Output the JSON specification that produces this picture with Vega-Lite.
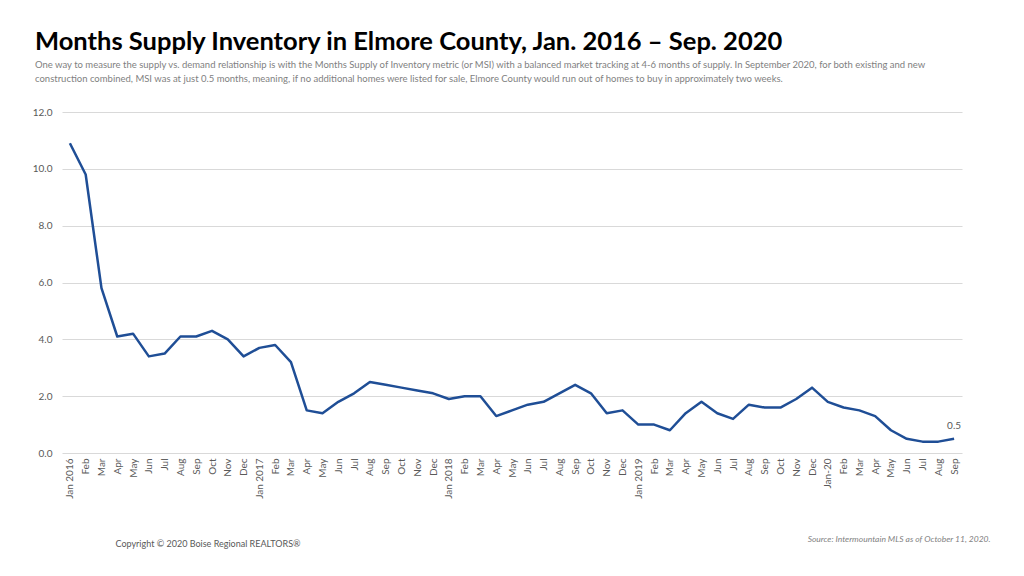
{
  "$schema": "https://vega.github.io/schema/vega-lite/v6.json",
  "width": 900,
  "height": 341,
  "autosize": {"type": "none"},
  "padding": {"left": 62, "top": 112, "right": 62, "bottom": 123},
  "background": "white",
  "title": {
    "text": "Months Supply Inventory in Elmore County, Jan. 2016 – Sep. 2020",
    "subtitle": [
      "One way to measure the supply vs. demand relationship is with the Months Supply of Inventory metric  (or MSI) with a balanced market tracking at 4-6 months of supply. In September 2020, for both existing and new",
      "construction combined, MSI was at just 0.5 months, meaning, if no additional homes were  listed for sale, Elmore County would run out of homes to buy in approximately two weeks."
    ],
    "anchor": "start",
    "frame": "group",
    "dx": -27,
    "offset": 24,
    "font": "Lato",
    "fontSize": 25.5,
    "fontWeight": "bold",
    "color": "#000000",
    "subtitleFont": "Lato",
    "subtitleFontSize": 9.5,
    "subtitleColor": "#7f7f7f",
    "subtitleLineHeight": 14,
    "subtitlePadding": 4
  },
  "data": {
    "values": [
      {"month": "2016-01", "msi": 10.9}, {"month": "2016-02", "msi": 9.8}, {"month": "2016-03", "msi": 5.8},
      {"month": "2016-04", "msi": 4.1}, {"month": "2016-05", "msi": 4.2}, {"month": "2016-06", "msi": 3.4},
      {"month": "2016-07", "msi": 3.5}, {"month": "2016-08", "msi": 4.1}, {"month": "2016-09", "msi": 4.1},
      {"month": "2016-10", "msi": 4.3}, {"month": "2016-11", "msi": 4.0}, {"month": "2016-12", "msi": 3.4},
      {"month": "2017-01", "msi": 3.7}, {"month": "2017-02", "msi": 3.8}, {"month": "2017-03", "msi": 3.2},
      {"month": "2017-04", "msi": 1.5}, {"month": "2017-05", "msi": 1.4}, {"month": "2017-06", "msi": 1.8},
      {"month": "2017-07", "msi": 2.1}, {"month": "2017-08", "msi": 2.5}, {"month": "2017-09", "msi": 2.4},
      {"month": "2017-10", "msi": 2.3}, {"month": "2017-11", "msi": 2.2}, {"month": "2017-12", "msi": 2.1},
      {"month": "2018-01", "msi": 1.9}, {"month": "2018-02", "msi": 2.0}, {"month": "2018-03", "msi": 2.0},
      {"month": "2018-04", "msi": 1.3}, {"month": "2018-05", "msi": 1.5}, {"month": "2018-06", "msi": 1.7},
      {"month": "2018-07", "msi": 1.8}, {"month": "2018-08", "msi": 2.1}, {"month": "2018-09", "msi": 2.4},
      {"month": "2018-10", "msi": 2.1}, {"month": "2018-11", "msi": 1.4}, {"month": "2018-12", "msi": 1.5},
      {"month": "2019-01", "msi": 1.0}, {"month": "2019-02", "msi": 1.0}, {"month": "2019-03", "msi": 0.8},
      {"month": "2019-04", "msi": 1.4}, {"month": "2019-05", "msi": 1.8}, {"month": "2019-06", "msi": 1.4},
      {"month": "2019-07", "msi": 1.2}, {"month": "2019-08", "msi": 1.7}, {"month": "2019-09", "msi": 1.6},
      {"month": "2019-10", "msi": 1.6}, {"month": "2019-11", "msi": 1.9}, {"month": "2019-12", "msi": 2.3},
      {"month": "2020-01", "msi": 1.8}, {"month": "2020-02", "msi": 1.6}, {"month": "2020-03", "msi": 1.5},
      {"month": "2020-04", "msi": 1.3}, {"month": "2020-05", "msi": 0.8}, {"month": "2020-06", "msi": 0.5},
      {"month": "2020-07", "msi": 0.4}, {"month": "2020-08", "msi": 0.4}, {"month": "2020-09", "msi": 0.5}
    ]
  },
  "encoding": {
    "x": {
      "field": "month",
      "type": "ordinal",
      "sort": null,
      "scale": {"type": "point", "padding": 0.5},
      "axis": {
        "title": "Source: Intermountain MLS as of October 11, 2020.",
        "titleX": 928,
        "titleY": 88,
        "titleAlign": "right",
        "titleAnchor": null,
        "titleBaseline": "alphabetic",
        "titleFont": "Lato",
        "titleFontSize": 8.5,
        "titleFontWeight": "normal",
        "titleFontStyle": "italic",
        "titleColor": "#7f7f7f",
        "labelAngle": -90,
        "labelFont": "Lato",
        "labelFontSize": 10,
        "labelColor": "#595959",
        "labelPadding": 5,
        "ticks": false,
        "domain": false,
        "grid": false,
        "labelExpr": "substring(datum.value,5,7)=='01' ? (substring(datum.value,0,4)=='2020' ? 'Jan-20' : 'Jan ' + substring(datum.value,0,4)) : ['Jan','Feb','Mar','Apr','May','Jun','Jul','Aug','Sep','Oct','Nov','Dec'][toNumber(substring(datum.value,5,7))-1]"
      }
    },
    "y": {
      "field": "msi",
      "type": "quantitative",
      "scale": {"domain": [0, 12]},
      "axis": {
        "title": "Copyright © 2020 Boise Regional REALTORS®",
        "titleAngle": 0,
        "titleX": 53,
        "titleY": 434,
        "titleAlign": "left",
        "titleBaseline": "alphabetic",
        "titleFont": "Lato",
        "titleFontSize": 9,
        "titleFontWeight": "normal",
        "titleColor": "#595959",
        "values": [0, 2, 4, 6, 8, 10, 12],
        "format": ".1f",
        "labelFont": "Lato",
        "labelFontSize": 10,
        "labelColor": "#595959",
        "labelPadding": 10,
        "ticks": false,
        "domain": false,
        "grid": true,
        "gridColor": "#d9d9d9",
        "gridWidth": 1
      }
    }
  },
  "layer": [
    {
      "mark": {"type": "line", "color": "#1f4e96", "strokeWidth": 2.5, "strokeJoin": "round"}
    },
    {
      "transform": [{"filter": "datum.month == '2020-09'"}],
      "mark": {"type": "text", "dy": -13, "font": "Lato", "fontSize": 10, "color": "#595959"},
      "encoding": {"text": {"field": "msi", "type": "quantitative", "format": ".1f"}}
    }
  ],
  "config": {"view": {"stroke": null}}
}
